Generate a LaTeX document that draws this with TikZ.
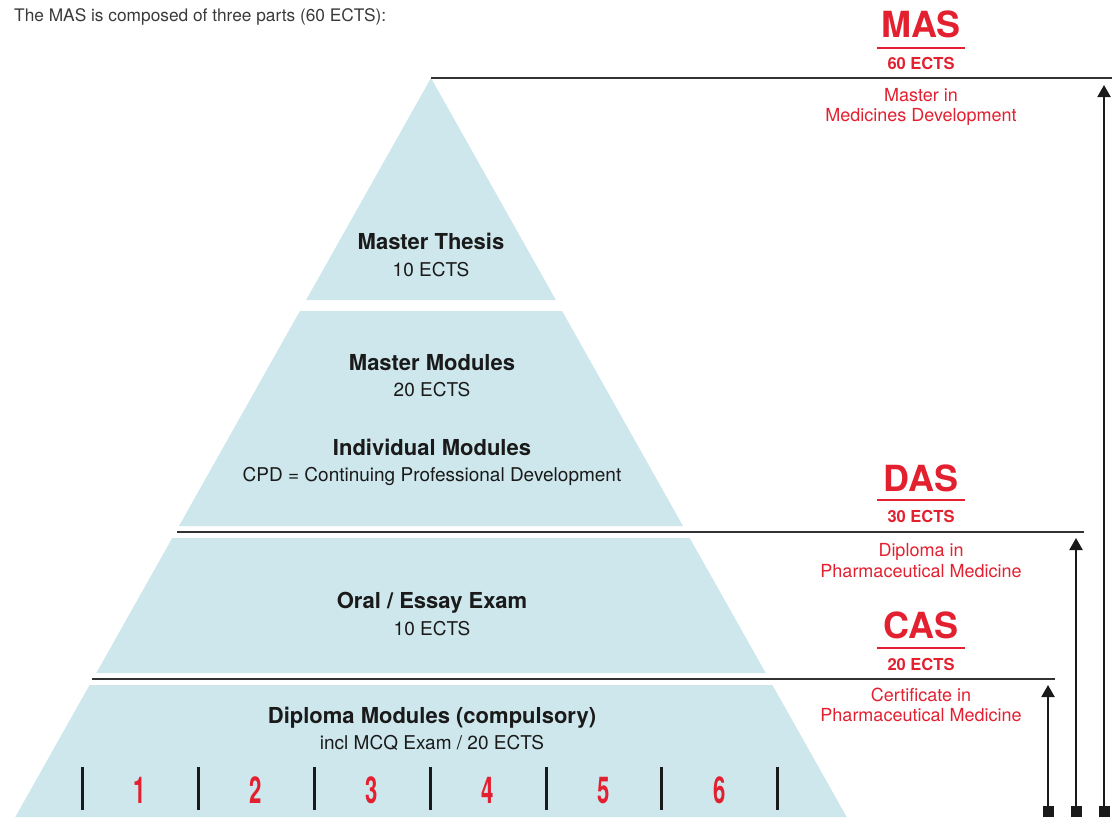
\documentclass[tikz,border=0pt]{standalone}
\usepackage{fontspec}
\setmainfont{TeX Gyre Heros}
\newfontfamily\numfont[FakeStretch=0.6]{TeX Gyre Heros}
\usetikzlibrary{arrows.meta}
\definecolor{pyr}{HTML}{CDE7EC}
\definecolor{mred}{HTML}{E3202F}
\definecolor{ink}{HTML}{1A1A1A}
\definecolor{rulec}{HTML}{333333}
\definecolor{intro}{HTML}{3A3A3A}
\begin{document}
\begin{tikzpicture}[x=1pt,y=-1pt,
  layer/.style={fill=pyr,draw=none},
  ttl/.style={font=\fontsize{22}{24}\selectfont\bfseries,text=ink,inner sep=0,anchor=base},
  sub/.style={font=\fontsize{19}{21}\selectfont,text=ink,inner sep=0,anchor=base},
  big/.style={font=\fontsize{36}{38}\selectfont\bfseries,text=mred,inner sep=0,anchor=base},
  ects/.style={font=\fontsize{16.5}{18}\selectfont\bfseries,text=mred,inner sep=0,anchor=base},
  deg/.style={font=\fontsize{18}{20}\selectfont,text=mred,inner sep=0,anchor=base},
  num/.style={font=\fontsize{37}{40}\selectfont\numfont\bfseries,text=mred,inner sep=0,anchor=base},
  sep/.style={draw=rulec,line width=1.5pt},
  uline/.style={draw=mred,line width=2pt},
  bar/.style={draw=ink,line width=3pt},
  arrowline/.style={draw=ink,line width=2pt,-{Triangle[width=13pt,length=12pt]}},
  sqr/.style={fill=ink,draw=none,minimum size=11pt,inner sep=0}]
\useasboundingbox (0,0) rectangle (1115,817);

% intro
\node[font=\fontsize{17.3}{20}\selectfont,text=intro,inner sep=0,anchor=base west] (intro) at (14,21) {The MAS is composed of three parts (60 ECTS):};

% pyramid layers
\fill[layer] (431,78) -- (555.9,300) -- (306.1,300) -- cycle;
\fill[layer] (299.9,311) -- (562.1,311) -- (683,526) -- (179,526) -- cycle;
\fill[layer] (172.3,538) -- (689.7,538) -- (765.7,673) -- (96.3,673) -- cycle;
\fill[layer] (89.6,685) -- (772.4,685) -- (846.7,817) -- (15.3,817) -- cycle;

% separators
\coordinate (s1a) at (431,78);  \coordinate (s1b) at (1112,78);
\coordinate (s2a) at (177,532); \coordinate (s2b) at (1084,532);
\coordinate (s3a) at (92,679);  \coordinate (s3b) at (1055,679);
\draw[sep] (s1a) -- (s1b);
\draw[sep] (s2a) -- (s2b);
\draw[sep] (s3a) -- (s3b);

% layer texts
\node[ttl] (t1) at (431,249) {Master Thesis};
\node[sub] (t1s) at (431,276) {10 ECTS};
\node[ttl] (t2) at (432,370) {Master Modules};
\node[sub] (t2s) at (432,396) {20 ECTS};
\node[ttl] (t3) at (432,455) {Individual Modules};
\node[sub] (t3s) at (432,481) {CPD = Continuing Professional Development};
\node[ttl] (t4) at (432,608) {Oral / Essay Exam};
\node[sub] (t4s) at (432,635) {10 ECTS};
\node[ttl] (t5) at (432,723) {Diploma Modules (compulsory)};
\node[sub] (t5s) at (432,749) {incl MCQ Exam / 20 ECTS};

% module bars and numbers
\foreach \x/\n in {82/b0,198/b1,314/b2,430/b3,546/b4,661/b5,777/b6}{
  \coordinate (\n t) at (\x,767); \coordinate (\n b) at (\x,810);
  \draw[bar] (\n t) -- (\n b);
}
\foreach \x/\k in {140/1,256/2,372/3,488/4,604/5,720/6}{
  \node[num] (m\k) at (\x,803) {\k};
}

% MAS label
\node[big] (mas) at (921,37) {MAS};
\coordinate (u1a) at (877,48); \coordinate (u1b) at (965,48);
\draw[uline] (u1a) -- (u1b);
\node[ects] (mase) at (921,69) {60 ECTS};
\node[deg] (masd1) at (921,101) {Master in};
\node[deg] (masd2) at (921,121) {Medicines Development};

% DAS label
\node[big] (das) at (921,491) {DAS};
\coordinate (u2a) at (877,500); \coordinate (u2b) at (965,500);
\draw[uline] (u2a) -- (u2b);
\node[ects] (dase) at (921,522) {30 ECTS};
\node[deg] (dasd1) at (921,556) {Diploma in};
\node[deg] (dasd2) at (921,577) {Pharmaceutical Medicine};

% CAS label
\node[big] (cas) at (921,638) {CAS};
\coordinate (u3a) at (877,648); \coordinate (u3b) at (965,648);
\draw[uline] (u3a) -- (u3b);
\node[ects] (case) at (921,670) {20 ECTS};
\node[deg] (casd1) at (921,701) {Certificate in};
\node[deg] (casd2) at (921,721) {Pharmaceutical Medicine};

% arrows
\node[sqr] (q1) at (1048,811.5) {};
\node[sqr] (q2) at (1076,811.5) {};
\node[sqr] (q3) at (1104,811.5) {};
\coordinate (a1) at (1048,685);
\coordinate (a2) at (1076,538);
\coordinate (a3) at (1104,85);
\draw[arrowline] (q1.center) -- (a1);
\draw[arrowline] (q2.center) -- (a2);
\draw[arrowline] (q3.center) -- (a3);
\end{tikzpicture}
\end{document}
